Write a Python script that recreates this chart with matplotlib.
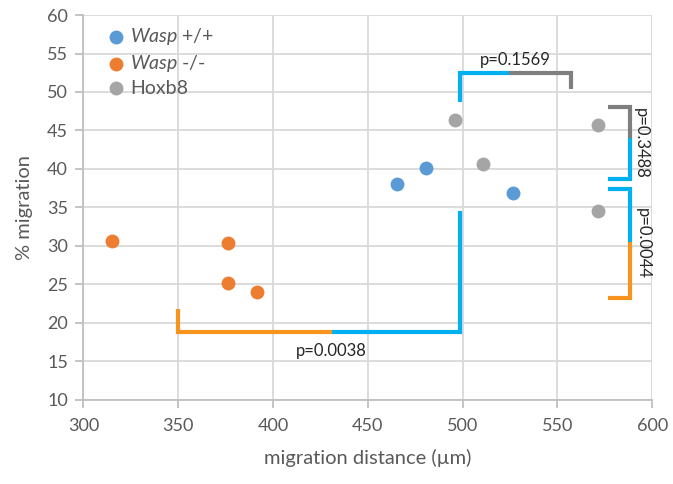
import matplotlib.pyplot as plt

plt.rcParams['font.family'] = ['Lato', 'DejaVu Sans']
plt.rcParams['mathtext.fontset'] = 'custom'
plt.rcParams['mathtext.it'] = 'Lato:italic'
plt.rcParams['mathtext.rm'] = 'Lato'

# data points (migration distance, % migration)
wt_x = [465.6, 480.7, 526.6]
wt_y = [38.1, 40.1, 36.9]
ko_x = [315.3, 376.4, 376.4, 391.5]
ko_y = [30.6, 30.4, 25.2, 24.0]
hox_x = [495.8, 510.9, 571.4, 571.4]
hox_y = [46.4, 40.6, 45.7, 34.6]

labels = [r'$\mathit{Wasp}$ +/+', r'$\mathit{Wasp}$ -/-', 'Hoxb8']
p_texts = ['p=0.0038', 'p=0.1569', 'p=0.3488', 'p=0.0044']

# significance brackets: (x list, y list, colour)
c_blue, c_orange, c_grey = '#00B0F0', '#F7941D', '#7F7F7F'
brackets = [
    ([350, 350, 431], [21.8, 18.8, 18.8], c_orange),
    ([431, 498.6, 498.6], [18.8, 18.8, 34.5], c_blue),
    ([498.6, 498.6, 524.7], [48.7, 52.5, 52.5], c_blue),
    ([524.7, 557.1, 557.1], [52.5, 52.5, 50.4], c_grey),
    ([576.7, 588.3, 588.3], [48.1, 48.1, 44.0], c_grey),
    ([588.3, 588.3, 576.7], [44.0, 38.7, 38.7], c_blue),
    ([576.7, 588.3, 588.3], [37.45, 37.45, 30.5], c_blue),
    ([588.3, 588.3, 576.7], [30.5, 23.25, 23.25], c_orange),
]

fig = plt.figure(figsize=(6.73, 4.84), dpi=100)
ax = fig.add_axes([0.1238, 0.1736, 0.8454, 0.7954])

ax.scatter(wt_x, wt_y, s=100, color='#5B9BD5', label=labels[0], zorder=3, linewidths=0)
ax.scatter(ko_x, ko_y, s=100, color='#ED7D31', label=labels[1], zorder=3, linewidths=0)
ax.scatter(hox_x, hox_y, s=100, color='#A5A5A5', label=labels[2], zorder=3, linewidths=0)

for bx, by, bc in brackets:
    ax.plot(bx, by, color=bc, lw=3, solid_joinstyle='miter', solid_capstyle='butt',
            zorder=2, clip_on=False)

pt = dict(ha='center', va='center', fontsize=12, color='#262626')
ax.text(431, 16.3, p_texts[0], **pt)
ax.text(527.7, 54.2, p_texts[1], **pt)
ax.text(594.2, 43.3, p_texts[2], rotation=-90, **pt)
ax.text(594.8, 30.3, p_texts[3], rotation=-90, **pt)

ax.set_xlim(300, 600)
ax.set_ylim(10, 60)
ax.set_xticks(range(300, 601, 50))
ax.set_yticks(range(10, 61, 5))
ax.grid(True, color='#D9D9D9', lw=1.3)
ax.set_axisbelow(True)
for s in ['top', 'right']:
    ax.spines[s].set_visible(False)
for s in ['left', 'bottom']:
    ax.spines[s].set_color('#BFBFBF')
    ax.spines[s].set_linewidth(1.3)
ax.tick_params(colors='#BFBFBF', labelcolor='#595959', labelsize=13, length=6, width=1.3)
ax.tick_params(axis='x', pad=7)
ax.tick_params(axis='y', pad=5)

ax.set_xlabel('migration distance (µm)', fontsize=14.5, color='#595959', labelpad=11)
ax.set_ylabel('% migration', fontsize=14.5, color='#595959', labelpad=10)

ax.legend(loc='upper left', bbox_to_anchor=(0.029, 0.992), frameon=False, fontsize=14,
          handlelength=0.9, handletextpad=0.25, labelspacing=0.3, labelcolor='#595959',
          borderaxespad=0.0)

fig.savefig('out.png', dpi=100)
